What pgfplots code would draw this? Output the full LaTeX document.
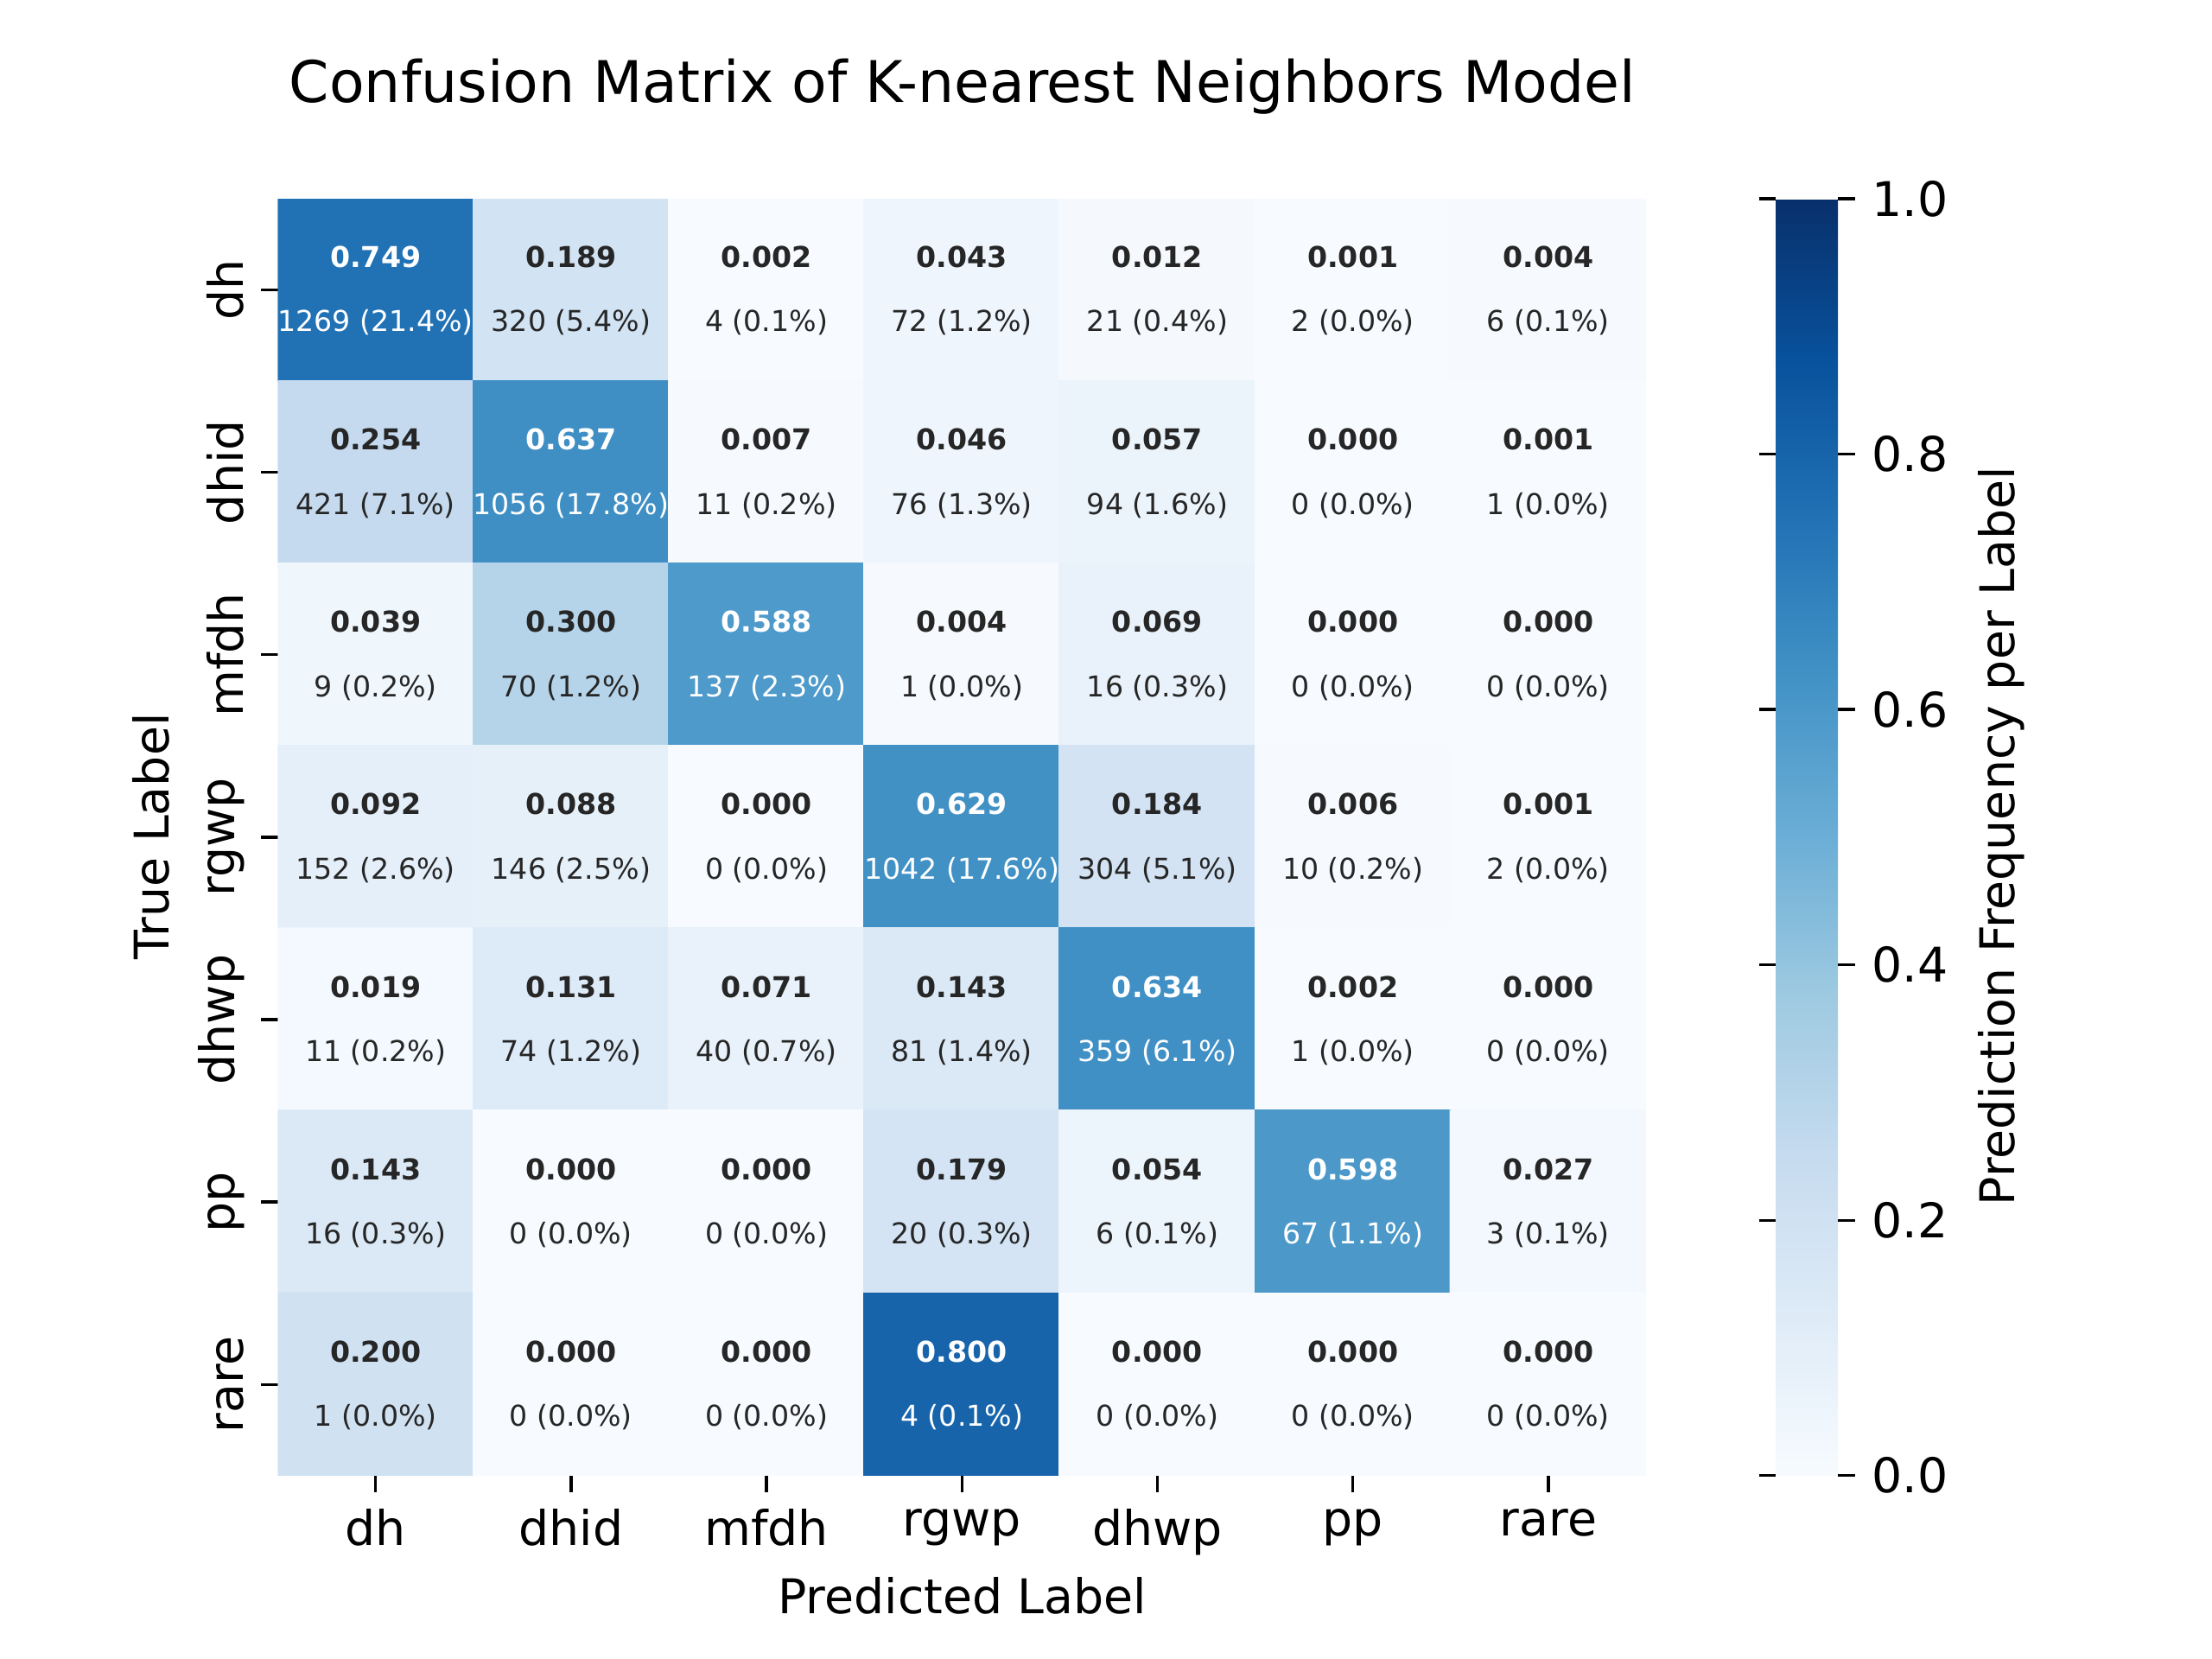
\documentclass[border=0pt]{standalone}
\usepackage{pgfplots}
\pgfplotsset{compat=1.18}
\usepackage{fontspec}
\setmainfont{DejaVu Sans}
\definecolor{txt}{HTML}{262626}
\pgfplotsset{colormap={mblues}{rgb255(0)=(247,251,255) rgb255(1)=(222,235,247) rgb255(2)=(198,219,239) rgb255(3)=(158,202,225) rgb255(4)=(107,174,214) rgb255(5)=(66,146,198) rgb255(6)=(33,113,181) rgb255(7)=(8,81,156) rgb255(8)=(8,48,107)}}
\newcommand{\cell}[5]{%
 \node[font=\fontsize{6}{7}\selectfont\bfseries,text=#5] at (axis cs:#1,#2-0.18) {#3};
 \node[font=\fontsize{6}{7}\selectfont,text=#5] at (axis cs:#1,#2+0.18) {#4};}
\begin{document}
\begin{tikzpicture}
\useasboundingbox (0,0) rectangle (460.8bp,345.6bp);
\begin{axis}[at={(57.9bp,38.2bp)},anchor=south west,
 scale only axis,width=285bp,height=266bp,
 xmin=-0.5,xmax=6.5,ymin=-0.5,ymax=6.5,y dir=reverse,
 enlargelimits=false,axis line style={draw=none},
 xtick={0,...,6},ytick={0,...,6},
 xticklabels={dh,dhid,mfdh,rgwp,dhwp,pp,rare},
 yticklabels={dh,dhid,mfdh,rgwp,dhwp,pp,rare},
 yticklabel style={rotate=90,anchor=south},
 tick label style={font=\fontsize{10}{12}\selectfont,text=black},
 tick align=outside,xtick pos=bottom,ytick pos=left,
 major tick length=3.5bp,tick style={black,line width=0.6pt},
 colormap name=mblues,point meta min=0,point meta max=1,
 colorbar,
 colorbar style={at={(parent axis.north east)},anchor=north west,xshift=18.5bp,
   width=13bp,axis line style={draw=none},ytick={0,0.2,...,1},
   yticklabel pos=right,tick align=outside,major tick length=3.5bp,
   tick style={black,line width=0.6pt},
   yticklabel style={font=\fontsize{10}{12}\selectfont,/pgf/number format/fixed,/pgf/number format/precision=1,/pgf/number format/fixed zerofill,/pgf/number format/assume math mode=true}},
]
\addplot[matrix plot*,mesh/cols=7,point meta=explicit] table[meta=c] {
x y c
0 0 0.749
1 0 0.189
2 0 0.002
3 0 0.043
4 0 0.012
5 0 0.001
6 0 0.004
0 1 0.254
1 1 0.637
2 1 0.007
3 1 0.046
4 1 0.057
5 1 0.000
6 1 0.001
0 2 0.039
1 2 0.300
2 2 0.588
3 2 0.004
4 2 0.069
5 2 0.000
6 2 0.000
0 3 0.092
1 3 0.088
2 3 0.000
3 3 0.629
4 3 0.184
5 3 0.006
6 3 0.001
0 4 0.019
1 4 0.131
2 4 0.071
3 4 0.143
4 4 0.634
5 4 0.002
6 4 0.000
0 5 0.143
1 5 0.000
2 5 0.000
3 5 0.179
4 5 0.054
5 5 0.598
6 5 0.027
0 6 0.200
1 6 0.000
2 6 0.000
3 6 0.800
4 6 0.000
5 6 0.000
6 6 0.000
};
\cell{0}{0}{0.749}{1269 (21.4\%)}{white}
\cell{1}{0}{0.189}{320 (5.4\%)}{txt}
\cell{2}{0}{0.002}{4 (0.1\%)}{txt}
\cell{3}{0}{0.043}{72 (1.2\%)}{txt}
\cell{4}{0}{0.012}{21 (0.4\%)}{txt}
\cell{5}{0}{0.001}{2 (0.0\%)}{txt}
\cell{6}{0}{0.004}{6 (0.1\%)}{txt}
\cell{0}{1}{0.254}{421 (7.1\%)}{txt}
\cell{1}{1}{0.637}{1056 (17.8\%)}{white}
\cell{2}{1}{0.007}{11 (0.2\%)}{txt}
\cell{3}{1}{0.046}{76 (1.3\%)}{txt}
\cell{4}{1}{0.057}{94 (1.6\%)}{txt}
\cell{5}{1}{0.000}{0 (0.0\%)}{txt}
\cell{6}{1}{0.001}{1 (0.0\%)}{txt}
\cell{0}{2}{0.039}{9 (0.2\%)}{txt}
\cell{1}{2}{0.300}{70 (1.2\%)}{txt}
\cell{2}{2}{0.588}{137 (2.3\%)}{white}
\cell{3}{2}{0.004}{1 (0.0\%)}{txt}
\cell{4}{2}{0.069}{16 (0.3\%)}{txt}
\cell{5}{2}{0.000}{0 (0.0\%)}{txt}
\cell{6}{2}{0.000}{0 (0.0\%)}{txt}
\cell{0}{3}{0.092}{152 (2.6\%)}{txt}
\cell{1}{3}{0.088}{146 (2.5\%)}{txt}
\cell{2}{3}{0.000}{0 (0.0\%)}{txt}
\cell{3}{3}{0.629}{1042 (17.6\%)}{white}
\cell{4}{3}{0.184}{304 (5.1\%)}{txt}
\cell{5}{3}{0.006}{10 (0.2\%)}{txt}
\cell{6}{3}{0.001}{2 (0.0\%)}{txt}
\cell{0}{4}{0.019}{11 (0.2\%)}{txt}
\cell{1}{4}{0.131}{74 (1.2\%)}{txt}
\cell{2}{4}{0.071}{40 (0.7\%)}{txt}
\cell{3}{4}{0.143}{81 (1.4\%)}{txt}
\cell{4}{4}{0.634}{359 (6.1\%)}{white}
\cell{5}{4}{0.002}{1 (0.0\%)}{txt}
\cell{6}{4}{0.000}{0 (0.0\%)}{txt}
\cell{0}{5}{0.143}{16 (0.3\%)}{txt}
\cell{1}{5}{0.000}{0 (0.0\%)}{txt}
\cell{2}{5}{0.000}{0 (0.0\%)}{txt}
\cell{3}{5}{0.179}{20 (0.3\%)}{txt}
\cell{4}{5}{0.054}{6 (0.1\%)}{txt}
\cell{5}{5}{0.598}{67 (1.1\%)}{white}
\cell{6}{5}{0.027}{3 (0.1\%)}{txt}
\cell{0}{6}{0.200}{1 (0.0\%)}{txt}
\cell{1}{6}{0.000}{0 (0.0\%)}{txt}
\cell{2}{6}{0.000}{0 (0.0\%)}{txt}
\cell{3}{6}{0.800}{4 (0.1\%)}{white}
\cell{4}{6}{0.000}{0 (0.0\%)}{txt}
\cell{5}{6}{0.000}{0 (0.0\%)}{txt}
\cell{6}{6}{0.000}{0 (0.0\%)}{txt}
\end{axis}
\node[font=\fontsize{12}{14}\selectfont] at (200.5bp,327.5bp) {Confusion Matrix of K-nearest Neighbors Model};
\node[font=\fontsize{10}{12}\selectfont] at (200.5bp,13.2bp) {Predicted Label};
\node[font=\fontsize{10}{12}\selectfont,rotate=90] at (31.5bp,171.4bp) {True Label};
\node[font=\fontsize{10}{12}\selectfont,rotate=90] at (416.9bp,171.4bp) {Prediction Frequency per Label};
\end{tikzpicture}
\end{document}
